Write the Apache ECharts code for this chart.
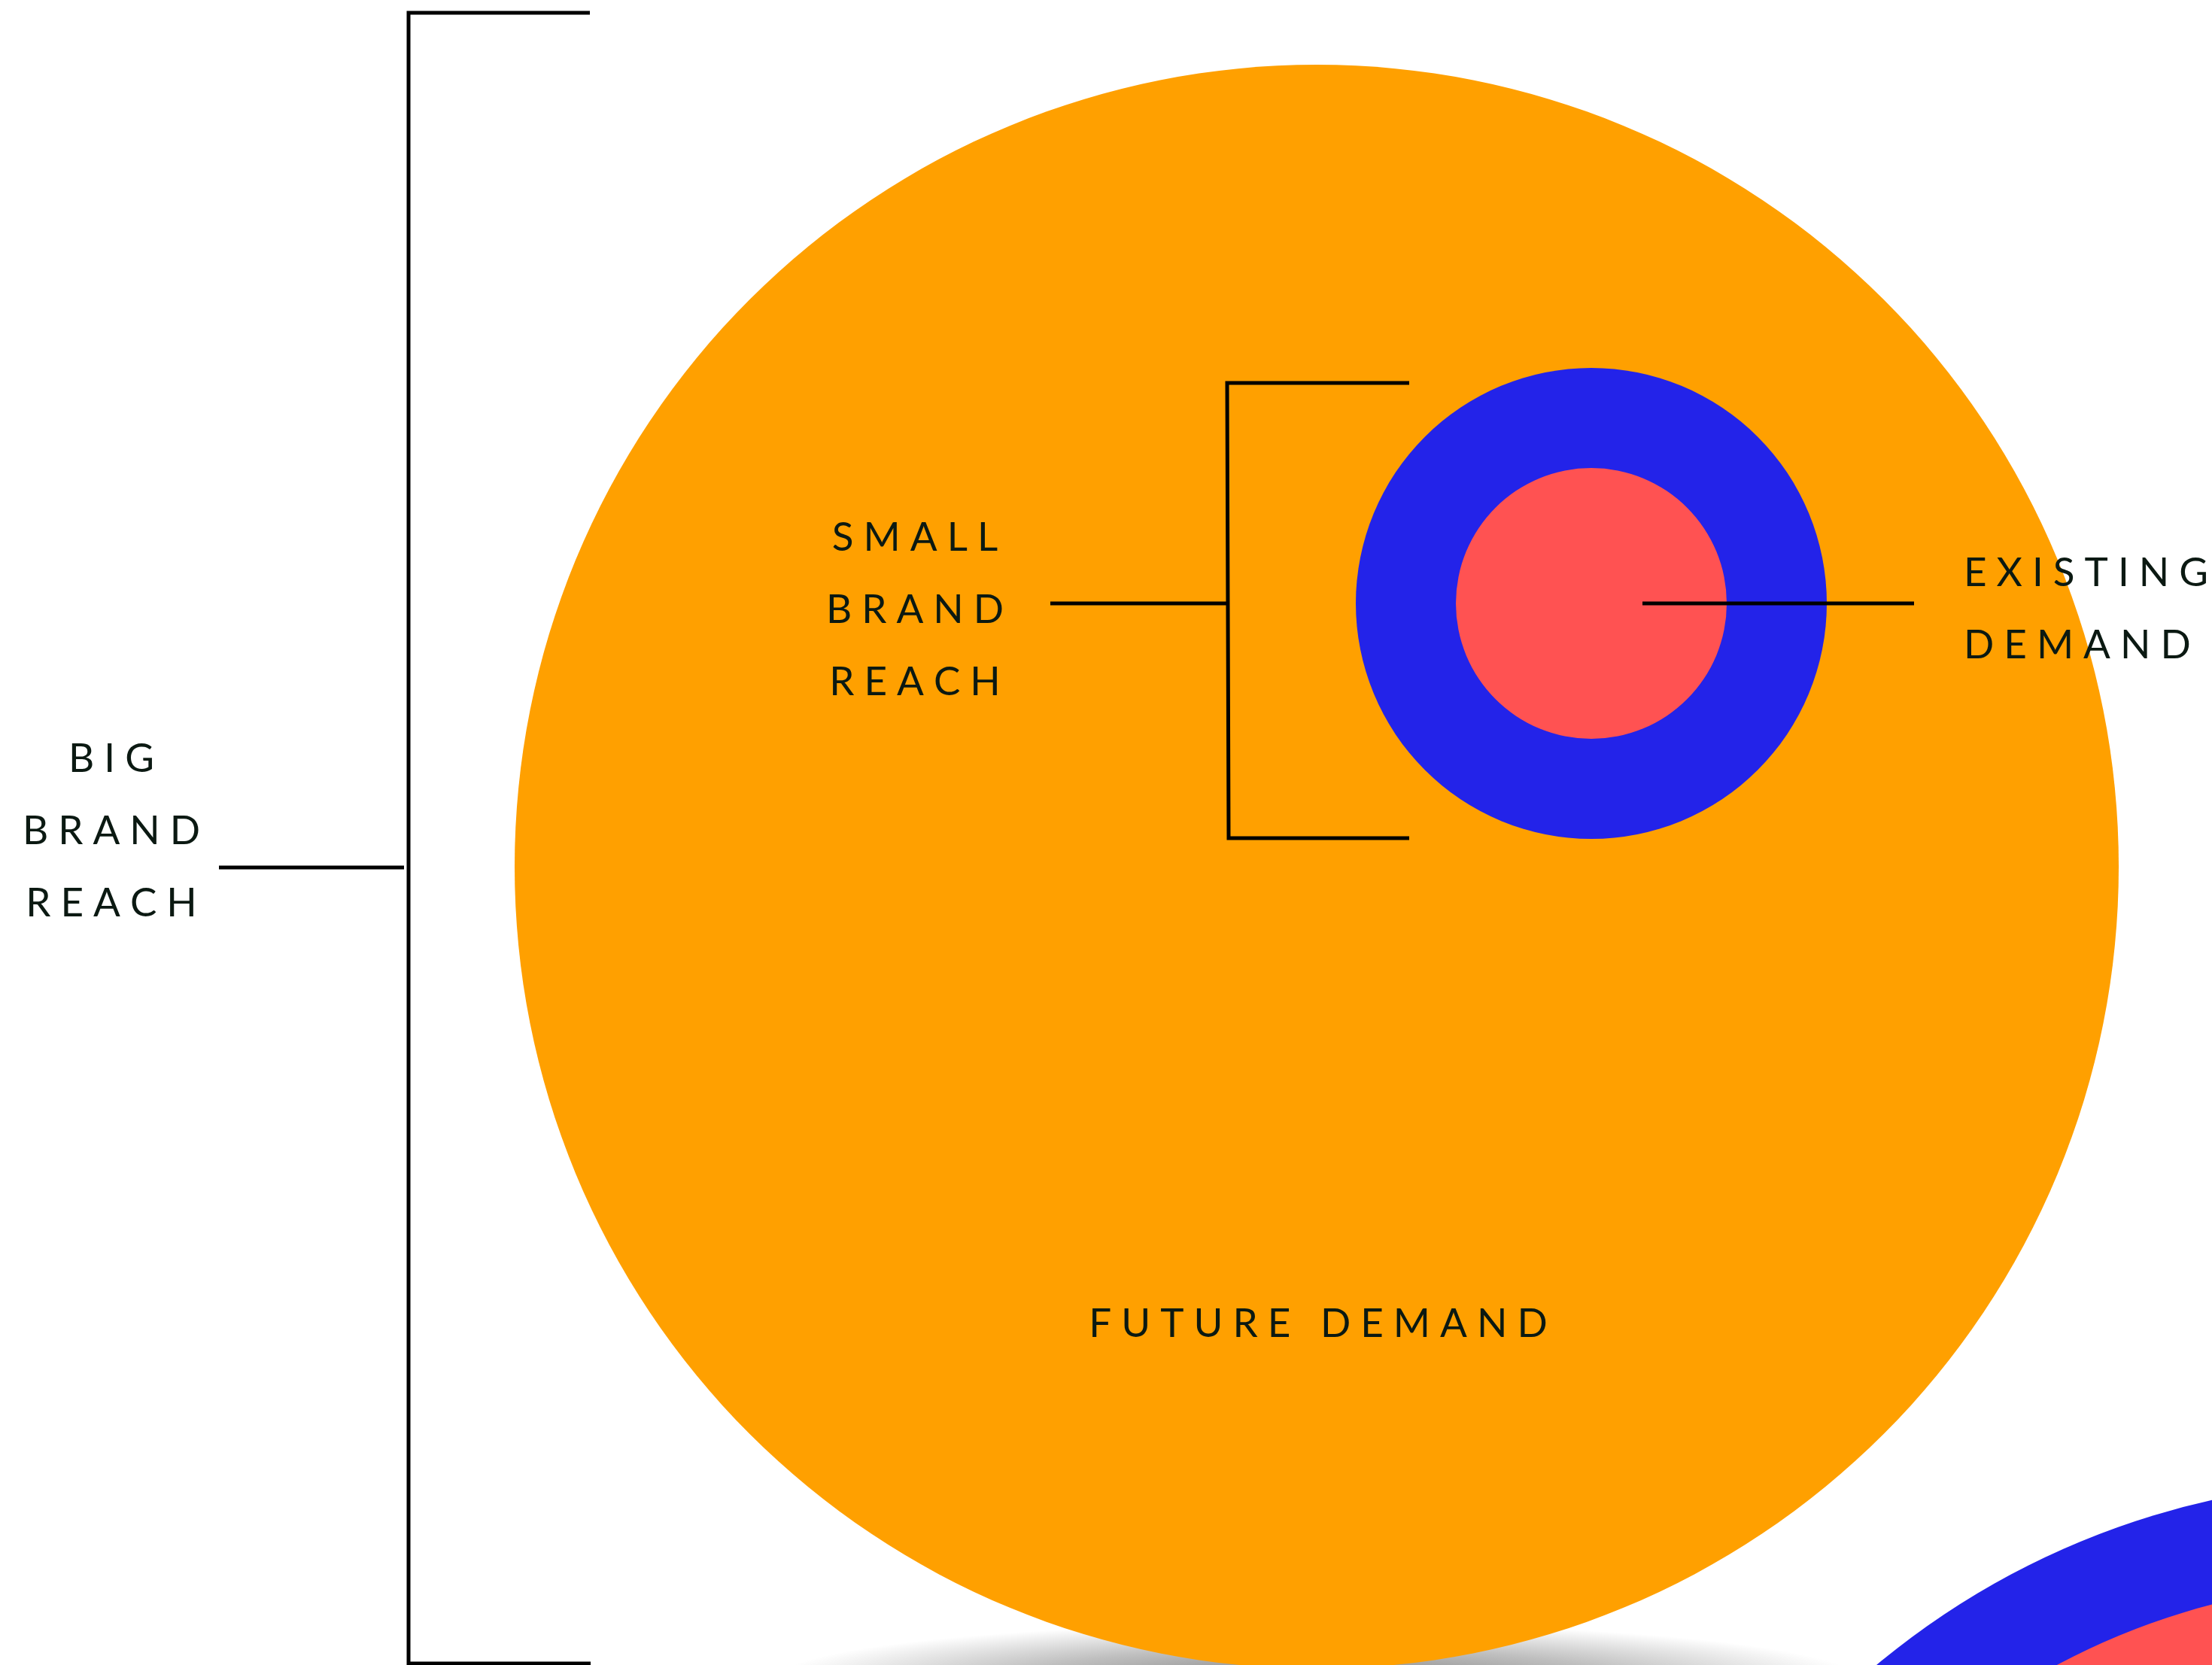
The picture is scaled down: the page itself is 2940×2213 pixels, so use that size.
<!DOCTYPE html>
<html>
<head>
<meta charset="utf-8">
<script src="https://cdn.jsdelivr.net/npm/echarts@6/dist/echarts.min.js"></script>
<style>
    html, body { margin: 0; padding: 0; background: #fff; }
    #main { width: 2940px; height: 2213px; }
</style>
</head>
<body>
<div id="main"></div>
<script>
// diagram units (1 unit = 1 px of the reference picture)
var circleNames = ['future demand', 'small brand reach', 'existing demand', 'next reach', 'next existing'];
var circleX = [1750, 2115, 2115, 3167, 3167];
var circleY = [1152, 802, 802, 3019, 3019];
var circleR = [1066, 313, 180, 1050, 915];

// bracket / leader lines as point lists
var bracketLines = [
    [[784, 17], [543, 17], [543, 2211], [785, 2211]],   // big brand reach bracket
    [[291, 1153], [537, 1153]],                         // big brand reach leader
    [[1873, 509], [1631, 509], [1633, 1114], [1873, 1114]], // small brand reach bracket
    [[1396, 802], [1631, 802]],                         // small brand reach leader
    [[2183, 802], [2544, 802]]                          // existing demand leader
];

var labelText = ['SMALL', 'BRAND', 'REACH', 'BIG', 'BRAND', 'REACH', 'EXISTING', 'DEMAND', 'FUTURE DEMAND'];
var labelX = [1216, 1216, 1216, 148, 148, 148, 2610, 2610, 1752];
var labelY = [715, 811, 907, 1009, 1105, 1201, 762, 858, 1760];
var labelAlign = ['center', 'center', 'center', 'center', 'center', 'center', 'left', 'left', 'center'];

var circleColors = ['#FFA000', '#2323E9', '#FF5252', '#2323E9', '#FF5252'];
var textFont = '400 53px Lato';
var tracking = 13;

var myChart = echarts.init(document.getElementById('main'));
var measureCtx = document.createElement('canvas').getContext('2d');

function glyphRun(text) {
    measureCtx.font = textFont;
    var xs = [];
    var x = 0;
    for (var i = 0; i < text.length; i++) {
        xs.push(x);
        x += measureCtx.measureText(text[i]).width + tracking;
    }
    return { xs: xs, width: x - tracking };
}

var option = {
    animation: false,
    backgroundColor: '#ffffff',
    grid: { left: 0, right: 0, top: 0, bottom: 0 },
    xAxis: { type: 'value', min: 0, max: 2940, show: false },
    yAxis: { type: 'value', min: 0, max: 2213, inverse: true, show: false },
    series: [
        {
            // soft floor shadow under the big circle
            name: 'shadow',
            type: 'custom',
            data: [[1750, 2232, 720, 75]],
            renderItem: function (params, api) {
                var c = api.coord([api.value(0), api.value(1)]);
                var s = api.size([api.value(2), api.value(3)]);
                return {
                    type: 'circle',
                    x: c[0],
                    y: c[1],
                    scaleY: s[1] / s[0],
                    shape: { cx: 0, cy: 0, r: s[0] },
                    style: {
                        fill: new echarts.graphic.RadialGradient(0.5, 0.5, 0.5, [
                            { offset: 0, color: 'rgba(0,0,0,0.5)' },
                            { offset: 0.55, color: 'rgba(0,0,0,0.25)' },
                            { offset: 1, color: 'rgba(0,0,0,0)' }
                        ])
                    }
                };
            }
        },
        {
            name: 'circles',
            type: 'custom',
            data: circleNames.map(function (n, i) { return [circleX[i], circleY[i], circleR[i], i]; }),
            renderItem: function (params, api) {
                var c = api.coord([api.value(0), api.value(1)]);
                var r = api.size([api.value(2), 0])[0];
                return {
                    type: 'circle',
                    shape: { cx: c[0], cy: c[1], r: r },
                    style: { fill: circleColors[api.value(3)] }
                };
            }
        },
        {
            name: 'brackets',
            type: 'custom',
            data: bracketLines.map(function (p, i) { return [p[0][0], p[0][1], i]; }),
            renderItem: function (params, api) {
                var pts = bracketLines[api.value(2)].map(function (p) { return api.coord(p); });
                return {
                    type: 'polyline',
                    shape: { points: pts },
                    style: { stroke: '#000000', lineWidth: 5, fill: null, lineJoin: 'miter', lineCap: 'butt' }
                };
            }
        },
        {
            name: 'labels',
            type: 'custom',
            data: labelText.map(function (t, i) { return [labelX[i], labelY[i], i]; }),
            renderItem: function (params, api) {
                var idx = api.value(2);
                var c = api.coord([api.value(0), api.value(1)]);
                var run = glyphRun(labelText[idx]);
                var start = labelAlign[idx] === 'center' ? c[0] - run.width / 2 : c[0];
                return {
                    type: 'group',
                    children: run.xs.map(function (gx, k) {
                        return {
                            type: 'text',
                            style: {
                                x: start + gx,
                                y: c[1],
                                text: labelText[idx][k],
                                font: textFont,
                                fill: '#0B1912',
                                align: 'left',
                                verticalAlign: 'middle'
                            }
                        };
                    })
                };
            }
        }
    ]
};
myChart.setOption(option);
</script>
</body>
</html>
